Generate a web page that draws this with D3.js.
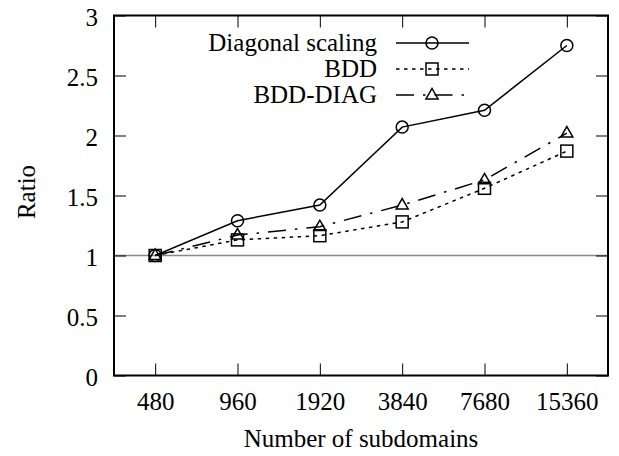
<!DOCTYPE html>
<html>
<head>
<meta charset="utf-8">
<script src="https://cdn.jsdelivr.net/npm/d3@7"></script>
<style>
  html, body { margin: 0; padding: 0; background: #fff; }
  svg text { font-family: "Liberation Serif", "Times New Roman", serif; fill: #000; }
</style>
</head>
<body>
<svg id="chart" width="619" height="456"></svg>
<script>
// Subdomain counts along the x axis
const categories = ["480", "960", "1920", "3840", "7680", "15360"];

// Ratio per series
const diagonalScaling = [1.0, 1.29, 1.42, 2.07, 2.21, 2.75];
const bdd             = [1.0, 1.13, 1.165, 1.28, 1.56, 1.87];
const bddDiag         = [1.0, 1.17, 1.24, 1.42, 1.63, 2.02];

const yTicks = [0, 0.5, 1, 1.5, 2, 2.5, 3];

const series = [
  { name: "Diagonal scaling", values: diagonalScaling, dash: null,         marker: "circle" },
  { name: "BDD",              values: bdd,             dash: "3.5,4.5",    marker: "square" },
  { name: "BDD-DIAG",         values: bddDiag,         dash: "18,9,2.5,9", marker: "triangle" }
];

const svg = d3.select("#chart");
const plot = { left: 114, right: 608, top: 15.5, bottom: 375.5 };

const x = d3.scalePoint().domain(categories).range([plot.left, plot.right]).padding(0.5);
const y = d3.scaleLinear().domain([0, 3]).range([plot.bottom, plot.top]);

const fontSize = 25;

// Reference line at ratio 1
svg.append("line")
  .attr("x1", plot.left).attr("x2", plot.right)
  .attr("y1", y(1)).attr("y2", y(1))
  .attr("stroke", "#888").attr("stroke-width", 1.5);

// Axes with inward ticks on all four sides
const tickLen = 12;
const bottomAxis = d3.axisBottom(x).tickSize(-tickLen).tickPadding(26);
const topAxis = d3.axisTop(x).tickSize(-tickLen).tickFormat("");
const leftAxis = d3.axisLeft(y).tickValues(yTicks).tickSize(-tickLen).tickPadding(16)
  .tickFormat(d => d3.format("")(d));
const rightAxis = d3.axisRight(y).tickValues(yTicks).tickSize(-tickLen).tickFormat("");

function styleAxis(g) {
  g.select(".domain").remove();
  g.selectAll(".tick line").attr("stroke", "#000").attr("stroke-width", 1);
  g.selectAll(".tick text").style("font-size", fontSize + "px").attr("fill", "#000");
}

svg.append("g").attr("transform", `translate(0,${plot.bottom})`).call(bottomAxis).call(styleAxis)
  .selectAll(".tick text").attr("dy", "0.32em").attr("y", 26);
svg.append("g").attr("transform", `translate(0,${plot.top})`).call(topAxis).call(styleAxis);
svg.append("g").attr("transform", `translate(${plot.left},0)`).call(leftAxis).call(styleAxis)
  .selectAll(".tick text").attr("dy", "0.4em");
svg.append("g").attr("transform", `translate(${plot.right},0)`).call(rightAxis).call(styleAxis);

// Plot border
svg.append("rect")
  .attr("x", plot.left).attr("y", plot.top)
  .attr("width", plot.right - plot.left).attr("height", plot.bottom - plot.top)
  .attr("fill", "none").attr("stroke", "#000").attr("stroke-width", 2);

// Axis titles
svg.append("text")
  .attr("x", (plot.left + plot.right) / 2).attr("y", 447)
  .attr("text-anchor", "middle").style("font-size", fontSize + "px")
  .text("Number of subdomains");
svg.append("text")
  .attr("transform", "translate(35,192) rotate(-90)")
  .attr("text-anchor", "middle").style("font-size", fontSize + "px")
  .text("Ratio");

// Marker shapes
function drawMarker(g, type, cx, cy) {
  const s = 6;
  const common = sel => sel.attr("fill", "none").attr("stroke", "#000").attr("stroke-width", 1.5);
  if (type === "circle") {
    g.append("circle").attr("cx", cx).attr("cy", cy).attr("r", s).call(common);
  } else if (type === "square") {
    g.append("rect").attr("x", cx - s).attr("y", cy - s).attr("width", 2 * s).attr("height", 2 * s).call(common);
  } else {
    const h = 6.5;
    g.append("path")
      .attr("d", `M${cx - s},${cy + h * 0.6} L${cx + s},${cy + h * 0.6} L${cx},${cy - h * 1.0} Z`)
      .call(common);
  }
}

const line = d3.line().x((d, i) => x(categories[i])).y(d => y(d));

series.forEach(s => {
  const g = svg.append("g");
  g.append("path")
    .datum(s.values)
    .attr("d", line)
    .attr("fill", "none")
    .attr("stroke", "#000")
    .attr("stroke-width", 1.5)
    .attr("stroke-dasharray", s.dash);
  s.values.forEach((v, i) => drawMarker(g, s.marker, x(categories[i]), y(v)));
});

// Legend
const legend = svg.append("g");
const legendRows = [43, 69, 95];
series.forEach((s, i) => {
  const ly = legendRows[i];
  legend.append("text")
    .attr("x", 377).attr("y", ly).attr("dy", "0.33em")
    .attr("text-anchor", "end").style("font-size", fontSize + "px")
    .text(s.name);
  legend.append("line")
    .attr("x1", 396).attr("x2", 469).attr("y1", ly).attr("y2", ly)
    .attr("stroke", "#000").attr("stroke-width", 1.5)
    .attr("stroke-dasharray", s.dash);
  drawMarker(legend, s.marker, 432, ly);
});
</script>
</body>
</html>
